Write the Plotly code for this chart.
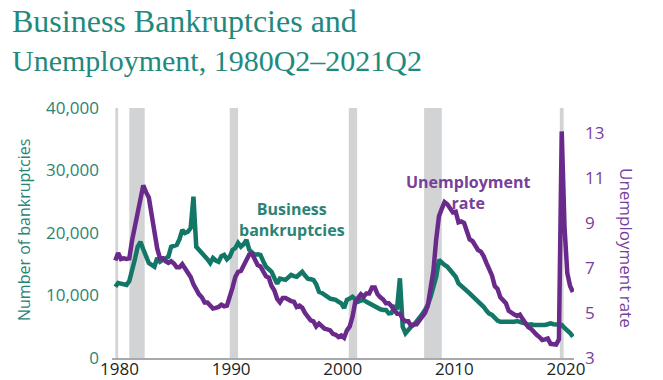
import plotly.graph_objects as go

# ---------------- data ----------------
start_year = 1980
start_quarter = 2  # 1980Q2 .. 2021Q2

bankruptcies = [
    11400, 12000, 11900,                 # 1980 Q2-Q4
    11800, 11700, 12300, 13800,          # 1981
    15800, 17800, 18600, 17400,          # 1982
    16300, 15200, 14900, 14600,          # 1983
    16000, 15400, 15700, 16000,          # 1984
    16200, 17800, 18000, 18100,          # 1985
    19000, 20500, 20000, 20200,          # 1986
    20800, 25800, 17800, 17300,          # 1987
    16900, 16500, 15800, 15200,          # 1988
    16000, 15600, 15400, 16300,          # 1989
    16500, 15800, 16200, 17300,          # 1990
    17600, 18400, 17800, 18200,          # 1991
    18900, 17300, 16800, 16500,          # 1992
    16600, 16500, 15500, 14600,          # 1993
    14200, 13800, 12800, 11900,          # 1994
    12700, 12600, 12500, 12900,          # 1995
    13300, 13100, 13000, 13400,          # 1996
    13800, 13200, 12700, 12600,          # 1997
    12500, 11800, 10600, 10400,          # 1998
    10100, 9700, 9500, 9400,             # 1999
    9300, 9000, 8750, 8000,              # 2000
    9300, 9500, 9800, 9400,              # 2001
    9000, 9200, 9300, 9000,              # 2002
    8750, 8500, 8200, 8000,              # 2003
    7800, 7700, 7700, 7150,              # 2004
    7200, 8200, 8100, 12750,             # 2005
    5000, 3950, 4600, 5000,              # 2006
    5300, 5800, 6300, 7000,              # 2007
    7700, 8500, 9800, 11500,             # 2008
    13000, 15700, 15200, 14900,          # 2009
    14600, 14000, 13400, 13000,          # 2010
    11950, 11600, 11200, 10800,          # 2011
    10350, 9900, 9500, 9100,             # 2012
    8750, 8200, 7600, 7100,              # 2013
    6900, 6400, 6000, 5800,              # 2014
    5800, 5700, 5800, 5700,              # 2015
    5800, 5900, 5800, 5600,              # 2016
    5500, 5300, 5400, 5300,              # 2017
    5300, 5200, 5300, 5300,              # 2018
    5400, 5550, 5400, 5400,              # 2019
    5300, 5300, 4800, 4500,              # 2020
    4000, 3400,                          # 2021 Q1-Q2
]

unemployment = [
    7.33, 7.67, 7.40,
    7.43, 7.40, 7.43, 8.23,
    8.83, 9.43, 9.90, 10.67,
    10.37, 10.13, 9.37, 8.53,
    7.87, 7.43, 7.43, 7.30,
    7.23, 7.30, 7.20, 7.03,
    7.03, 7.17, 6.97, 6.83,
    6.60, 6.27, 6.00, 5.83,
    5.70, 5.47, 5.47, 5.33,
    5.20, 5.23, 5.27, 5.37,
    5.30, 5.33, 5.70, 6.13,
    6.60, 6.83, 6.87, 7.10,
    7.37, 7.60, 7.63, 7.37,
    7.13, 7.07, 6.80, 6.63,
    6.57, 6.20, 6.00, 5.63,
    5.47, 5.67, 5.67, 5.57,
    5.53, 5.50, 5.27, 5.33,
    5.23, 5.00, 4.87, 4.67,
    4.63, 4.40, 4.53, 4.43,
    4.30, 4.27, 4.23, 4.07,
    4.03, 3.93, 4.00, 3.90,
    4.23, 4.40, 4.83, 5.50,
    5.70, 5.83, 5.73, 5.87,
    5.87, 6.13, 6.13, 5.83,
    5.70, 5.60, 5.43, 5.43,
    5.30, 5.10, 4.97, 4.97,
    4.73, 4.63, 4.63, 4.43,
    4.50, 4.50, 4.67, 4.83,
    5.00, 5.33, 6.00, 6.87,
    8.27, 9.30, 9.63, 9.93,
    9.83, 9.63, 9.47, 9.50,
    9.03, 9.07, 9.00, 8.63,
    8.27, 8.20, 8.03, 7.80,
    7.73, 7.53, 7.23, 6.93,
    6.67, 6.20, 6.07, 5.70,
    5.53, 5.43, 5.10, 5.00,
    4.93, 4.87, 4.93, 4.73,
    4.57, 4.37, 4.30, 4.13,
    4.03, 3.93, 3.80, 3.83,
    3.87, 3.63, 3.60, 3.60,
    3.83, 13.07, 8.83, 6.77,
    6.20, 5.93,
]

recessions = [
    (1980.25, 1980.5),
    (1981.5, 1982.88),
    (1990.5, 1991.25),
    (2001.17, 2001.92),
    (2007.92, 2009.5),
    (2020.08, 2020.42),
]

x_tick_years = [1980, 1990, 2000, 2010, 2020]
left_ticks = [0, 10000, 20000, 30000, 40000]
right_ticks = [3, 5, 7, 9, 11, 13]

# ---------------- style ----------------
W, H = 663, 380
ML, MR, MT, MB = 112, 89, 108, 22
PW, PH = W - ML - MR, H - MT - MB

GREEN = "#127767"
PURPLE = "#6a2a8c"
TITLE_TEAL = "#1f8a7c"
LABEL_TEAL = "#2a8476"
LABEL_PURPLE = "#77409a"
GRAY_BAR = "#d1d3d4"
SANS = "Open Sans, sans-serif"
SERIF = "Liberation Serif, serif"

def px(x):
    return (x - ML) / PW

def py(y):
    return (H - MB - y) / PH

n = len(bankruptcies)
xs = []
for i in range(n):
    q = start_quarter - 1 + i
    xs.append(start_year + (q // 4) + (q % 4) / 4.0)

fig = go.Figure()
fig.add_trace(go.Scatter(x=xs, y=bankruptcies, mode="lines",
                         line=dict(color=GREEN, width=4.5), yaxis="y",
                         name="Business bankruptcies"))
fig.add_trace(go.Scatter(x=xs, y=unemployment, mode="lines",
                         line=dict(color=PURPLE, width=4.5), yaxis="y2",
                         name="Unemployment rate"))

shapes = []
for a, b in recessions:
    shapes.append(dict(type="rect", xref="x", yref="paper", x0=a, x1=b,
                       y0=0, y1=1, fillcolor=GRAY_BAR, line=dict(width=0),
                       layer="below"))

annotations = [
    dict(text="Business Bankruptcies and", x=px(10), y=py(21), xref="paper",
         yref="paper", xanchor="left", yanchor="middle", showarrow=False,
         font=dict(family=SERIF, size=32, color=TITLE_TEAL)),
    dict(text="Unemployment, 1980Q2\u20132021Q2", x=px(10), y=py(60),
         xref="paper", yref="paper", xanchor="left", yanchor="middle",
         showarrow=False, font=dict(family=SERIF, size=30, color=TITLE_TEAL)),
    dict(text="Number of bankruptcies", x=px(24), y=py(230), xref="paper",
         yref="paper", textangle=-90, showarrow=False, xanchor="center",
         yanchor="middle", font=dict(family=SANS, size=16, color=LABEL_TEAL)),
    dict(text="Unemployment rate", x=px(627), y=py(248), xref="paper",
         yref="paper", textangle=90, showarrow=False, xanchor="center",
         yanchor="middle", font=dict(family=SANS, size=17, color=LABEL_PURPLE)),
    dict(text="<b>Business<br>bankruptcies</b>", x=px(292), y=py(219),
         xref="paper", yref="paper", showarrow=False, xanchor="center",
         yanchor="middle", font=dict(family=SANS, size=16, color=LABEL_TEAL)),
    dict(text="<b>Unemployment<br>rate</b>", x=px(468), y=py(192),
         xref="paper", yref="paper", showarrow=False, xanchor="center",
         yanchor="middle", font=dict(family=SANS, size=16, color=LABEL_PURPLE)),
]

fig.update_layout(
    width=W, height=H,
    margin=dict(l=ML, r=MR, t=MT, b=MB, pad=0, autoexpand=False),
    paper_bgcolor="white", plot_bgcolor="white",
    showlegend=False,
    shapes=shapes,
    annotations=annotations,
    xaxis=dict(range=[1979.95, 2021.35], tickvals=x_tick_years,
               ticktext=[str(v) for v in x_tick_years], automargin=False,
               showgrid=False, zeroline=False, showline=True,
               linecolor="#a7a9ac", linewidth=2, ticks="",
               ticklabelshift=7, ticklabelstandoff=-5,
               tickfont=dict(family=SANS, size=17, color="#231f20")),
    yaxis=dict(range=[0, 40000], tickvals=left_ticks, tickformat=",",
               automargin=False,
               showgrid=False, zeroline=False, showline=False, ticks="",
               ticklabelstandoff=12,
               tickfont=dict(family=SANS, size=17, color=LABEL_TEAL)),
    yaxis2=dict(range=[3, 14.111], tickvals=right_ticks, overlaying="y",
                side="right", showgrid=False, zeroline=False, showline=False,
                ticks="", ticklabelstandoff=10, automargin=False,
                tickfont=dict(family=SANS, size=17, color=LABEL_PURPLE)),
)

fig.write_html("out.html")
